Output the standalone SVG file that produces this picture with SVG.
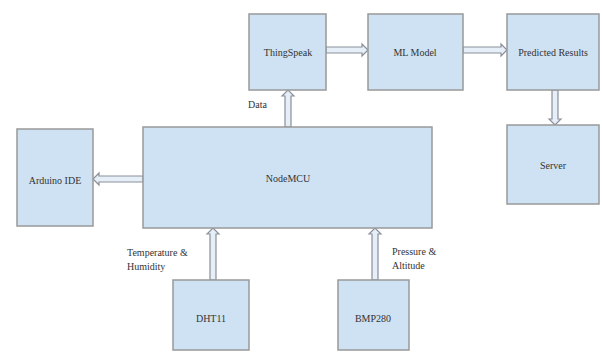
<svg xmlns="http://www.w3.org/2000/svg" width="602" height="352" viewBox="0 0 602 352">
<style>
.box{fill:#cfe2f3;stroke:#999;stroke-width:1.5}
.t{font-family:"Liberation Serif",serif;font-size:10px;fill:#333;text-anchor:middle;dominant-baseline:central}
.l{font-family:"Liberation Serif",serif;font-size:10px;fill:#333}
.a{fill:#e6eef8;stroke:#8a8f99;stroke-width:1.2;stroke-linejoin:miter}
</style>
<rect width="602" height="352" fill="#fff"/>
<g id="connectors">
<path class="a" d="M326,47 H362 V44 L368,50 L362,56 V53 H326 Z"/>
<path class="a" d="M463,47 H501 V44 L507,50 L501,56 V53 H463 Z"/>
<path class="a" d="M552,90 V119 H549 L555,125 L561,119 H558 V90 Z"/>
<path class="a" d="M285,127 V96 H282 L288,90 L294,96 H291 V127 Z"/>
<path class="a" d="M143,176 H99 V173 L93,179 L99,185 V182 H143 Z"/>
<path class="a" d="M210,280 V234 H207 L213,228 L219,234 H216 V280 Z"/>
<path class="a" d="M372,280 V234 H369 L375,228 L381,234 H378 V280 Z"/>
<text class="l" x="248" y="108">Data</text>
<text class="l" x="127" y="256">Temperature &amp;</text>
<text class="l" x="127" y="270">Humidity</text>
<text class="l" x="392" y="255">Pressure &amp;</text>
<text class="l" x="392" y="269">Altitude</text>
</g>
<g id="thingspeak"><rect class="box" x="249" y="14" width="77" height="76"/><text class="t" x="288" y="52">ThingSpeak</text></g>
<g id="mlmodel"><rect class="box" x="368" y="14" width="95" height="76"/><text class="t" x="415" y="52">ML Model</text></g>
<g id="predicted"><rect class="box" x="507" y="14" width="92" height="76"/><text class="t" x="553" y="52">Predicted Results</text></g>
<g id="server"><rect class="box" x="507" y="125" width="92" height="79"/><text class="t" x="553" y="165">Server</text></g>
<g id="nodemcu"><rect class="box" x="143" y="127" width="289" height="101"/><text class="t" x="288" y="178">NodeMCU</text></g>
<g id="arduino"><rect class="box" x="17" y="129" width="76" height="97"/><text class="t" x="55" y="180">Arduino IDE</text></g>
<g id="dht11"><rect class="box" x="173" y="280" width="76" height="70"/><text class="t" x="211" y="318">DHT11</text></g>
<g id="bmp280"><rect class="box" x="338" y="280" width="71" height="70"/><text class="t" x="373" y="318">BMP280</text></g>
</svg>
